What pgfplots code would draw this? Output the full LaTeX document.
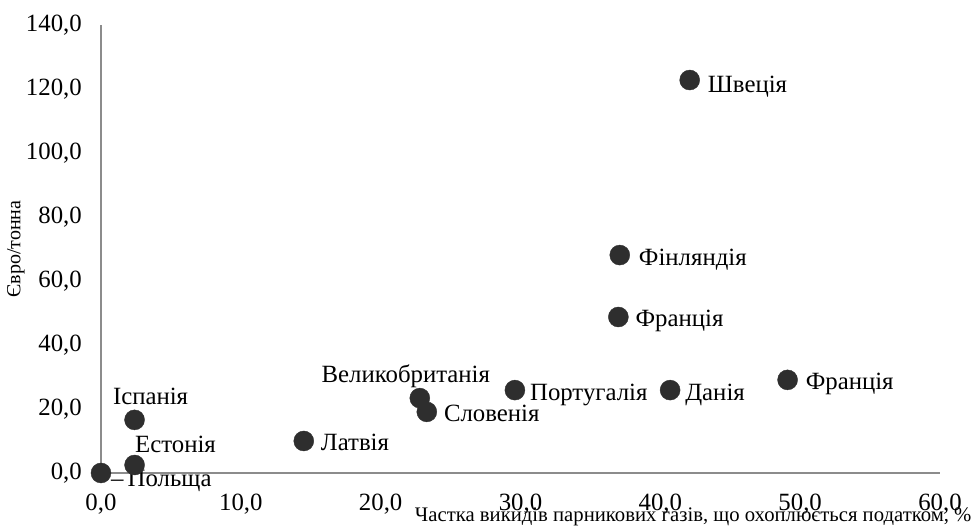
\documentclass[border=0pt]{standalone}
\usepackage{pgfplots}
\pgfplotsset{compat=1.18}
\usepackage{fontspec}
\setmainfont{Liberation Serif}
\definecolor{dot}{HTML}{2E2E2E}
\definecolor{axgray}{HTML}{8C8C8C}
\tikzset{lbl/.style={inner sep=0pt, font=\fontsize{24.8pt}{27pt}\selectfont, text=black}}

\begin{document}
\begin{tikzpicture}
\path[use as bounding box] (-101pt,-56pt) rectangle (877pt,473pt);
\begin{axis}[
  at={(0pt,0pt)}, anchor=south west,
  scale only axis,
  width=839pt, height=448pt,
  xmin=0, xmax=60, ymin=0, ymax=140,
  axis x line=bottom, axis y line=left,
  axis line style={-, draw=axgray, line width=1.5pt},
  major tick length=0pt,
  xtick={0,10,20,30,40,50,60},
  xticklabels={{0,0},{10,0},{20,0},{30,0},{40,0},{50,0},{60,0}},
  ytick={0,20,40,60,80,100,120,140},
  yticklabels={{0,0},{20,0},{40,0},{60,0},{80,0},{100,0},{120,0},{140,0}},
  tick label style={font=\fontsize{24.8pt}{27pt}\selectfont, inner sep=0pt},
  yticklabel style={anchor=east, xshift=-19pt},
  xticklabel style={anchor=north, yshift=-21pt},
  clip=false,
  every axis y label/.style={at={(axis description cs:-0.1013,0.5)}, rotate=90, anchor=center, font=\fontsize{20pt}{22pt}\selectfont},
  every axis x label/.style={at={(axis description cs:1.0417,-0.098)}, anchor=east, font=\fontsize{20.7pt}{22pt}\selectfont},
  xlabel={Частка викидів парникових газів, що охоплюється податком, \%},
  ylabel={Євро/тонна},
]
\addplot[only marks, mark=*, mark size=10pt, mark options={fill=dot, draw=dot}] coordinates {
(0,0) (2.4,2.5) (2.4,16.6) (14.5,10.0) (22.8,23.4) (23.3,19.1)
(29.6,25.9) (40.7,25.9) (49.1,29.1) (37.0,48.75) (37.1,68.1) (42.1,122.8)
};
\node[lbl, anchor=base west, xshift=10pt, yshift=-14pt] at (axis cs:0,0) {–\,Польща};
\node[lbl, anchor=base, xshift=41pt, yshift=12pt] at (axis cs:2.4,2.5) {Естонія};
\node[lbl, anchor=base, xshift=16pt, yshift=15pt] at (axis cs:2.4,16.6) {Іспанія};
\node[lbl, anchor=base west, xshift=17pt, yshift=-10pt] at (axis cs:14.5,10.0) {Латвія};
\node[lbl, anchor=base, xshift=-14pt, yshift=16pt] at (axis cs:22.8,23.4) {Великобританія};
\node[lbl, anchor=base west, xshift=17pt, yshift=-10pt] at (axis cs:23.3,19.1) {Словенія};
\node[lbl, anchor=base west, xshift=15pt, yshift=-10pt] at (axis cs:29.6,25.9) {Португалія};
\node[lbl, anchor=base west, xshift=15pt, yshift=-10pt] at (axis cs:40.7,25.9) {Данія};
\node[lbl, anchor=base west, xshift=18pt, yshift=-10pt] at (axis cs:49.1,29.1) {Франція};
\node[lbl, anchor=base west, xshift=17pt, yshift=-10pt] at (axis cs:37.0,48.75) {Франція};
\node[lbl, anchor=base west, xshift=19pt, yshift=-10pt] at (axis cs:37.1,68.1) {Фінляндія};
\node[lbl, anchor=base west, xshift=18pt, yshift=-12pt] at (axis cs:42.1,122.8) {Швеція};
\end{axis}
\end{tikzpicture}
\end{document}
